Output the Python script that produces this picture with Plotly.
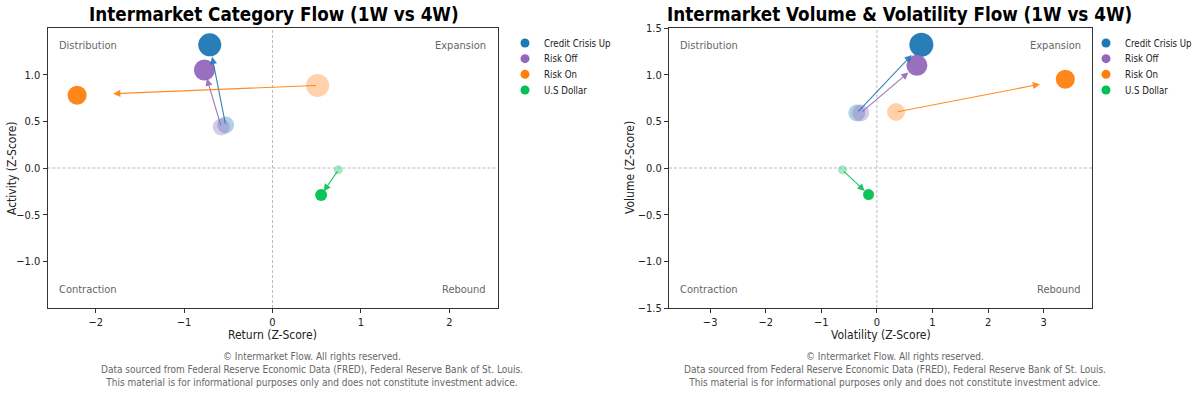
import plotly.graph_objects as go

series = ["Credit Crisis Up", "Risk Off", "Risk On", "U.S Dollar"]
colors = ["#1f77b4", "#9467bd", "#ff7f0e", "#00c150"]

# Left chart: Return vs Activity (Z-Score)
ret_1w = [-0.71, -0.77, -2.21, 0.55]
act_1w = [1.32, 1.05, 0.78, -0.29]
ret_4w = [-0.53, -0.58, 0.51, 0.745]
act_4w = [0.46, 0.44, 0.885, -0.02]
size_l_1w = [23, 21, 19, 12]
size_l_4w = [17, 17, 23, 9]

# Right chart: Volatility vs Volume (Z-Score)
vol_1w = [0.80, 0.72, 3.39, -0.15]
vlm_1w = [1.32, 1.10, 0.95, -0.285]
vol_4w = [-0.36, -0.29, 0.345, -0.62]
vlm_4w = [0.59, 0.59, 0.60, -0.02]
size_r_1w = [24, 21, 19, 11]
size_r_4w = [17, 17, 18, 9]

quadrants = ["Distribution", "Expansion", "Contraction", "Rebound"]
footer = ("© Intermarket Flow. All rights reserved.<br>"
          "Data sourced from Federal Reserve Economic Data (FRED), Federal Reserve Bank of St. Louis.<br>"
          "This material is for informational purposes only and does not constitute investment advice.")

FONT = "DejaVu Sans Condensed, DejaVu Sans, sans-serif"
W, H = 1200, 400
FRAC = 0.85

fig = go.Figure()

panels = [
    dict(xs1=ret_1w, ys1=act_1w, xs4=ret_4w, ys4=act_4w, s1=size_l_1w, s4=size_l_4w,
         xa="x", ya="y", lx="x3", ly="y3",
         xt="Return (Z-Score)", yt="Activity (Z-Score)", ytx=12),
    dict(xs1=vol_1w, ys1=vlm_1w, xs4=vol_4w, ys4=vlm_4w, s1=size_r_1w, s4=size_r_4w,
         xa="x2", ya="y2", lx="x4", ly="y4",
         xt="Volatility (Z-Score)", yt="Volume (Z-Score)", ytx=630),
]

annotations = []
for p in panels:
    for i, name in enumerate(series):
        c = colors[i]
        # 4W (faded)
        fig.add_trace(go.Scatter(
            x=[p["xs4"][i]], y=[p["ys4"][i]], mode="markers", xaxis=p["xa"], yaxis=p["ya"],
            marker=dict(size=p["s4"][i], color=c, opacity=0.35, line=dict(width=0)),
            showlegend=False, hoverinfo="skip"))
        # 1W (solid)
        fig.add_trace(go.Scatter(
            x=[p["xs1"][i]], y=[p["ys1"][i]], mode="markers", xaxis=p["xa"], yaxis=p["ya"],
            marker=dict(size=p["s1"][i], color=c, opacity=0.95, line=dict(width=0)),
            showlegend=False, name=name))
        # arrow from 4W toward 1W
        x0, y0 = p["xs4"][i], p["ys4"][i]
        x1, y1 = p["xs1"][i], p["ys1"][i]
        tx = x0 + FRAC * (x1 - x0)
        ty = y0 + FRAC * (y1 - y0)
        annotations.append(dict(
            x=tx, y=ty, ax=x0, ay=y0, xref=p["xa"], yref=p["ya"], axref=p["xa"], ayref=p["ya"],
            showarrow=True, arrowhead=2, arrowsize=1.3, arrowwidth=1.1, arrowcolor=c,
            text="", opacity=0.9))
    # custom legend (markers on a hidden axis)
    fig.add_trace(go.Scatter(
        x=[0] * len(series), y=list(range(len(series))), mode="markers",
        xaxis=p["lx"], yaxis=p["ly"], marker=dict(size=9, color=colors),
        showlegend=False, hoverinfo="skip", cliponaxis=False))
    for i, name in enumerate(series):
        annotations.append(dict(text=name, xref=p["lx"], yref=p["ly"], x=0, y=i,
                                xanchor="left", yanchor="middle", xshift=17, showarrow=False,
                                font=dict(family=FONT, size=9.6, color="#222")))
    # axis titles
    annotations.append(dict(text=p["xt"], xref=p["xa"] + " domain", yref="paper", x=0.5,
                            y=1 - 335 / H, xanchor="center", yanchor="middle", showarrow=False,
                            font=dict(family=FONT, size=12, color="#222")))
    annotations.append(dict(text=p["yt"], xref="paper", yref=p["ya"] + " domain",
                            x=p["ytx"] / W, y=0.5, xanchor="center", yanchor="middle",
                            textangle=-90, showarrow=False,
                            font=dict(family=FONT, size=12, color="#222")))

# domains (paper coords)
xd1 = [47.5 / W, 497.5 / W]
xd2 = [669 / W, 1092 / W]
yd = [1 - 308 / H, 1 - 28 / H]
leg_y = [1 - 90 / H, 1 - 43 / H]

axis_common = dict(showline=True, linecolor="#333", linewidth=1, mirror=True,
                   ticks="outside", ticklen=4, tickcolor="#333", showgrid=False,
                   zeroline=False, tickfont=dict(family=FONT, size=11, color="#222"))
hidden = dict(visible=False, showgrid=False, zeroline=False, fixedrange=True)

fig.update_layout(
    width=W, height=H, margin=dict(l=0, r=0, t=0, b=0, autoexpand=False),
    paper_bgcolor="white", plot_bgcolor="white", showlegend=False,
    font=dict(family=FONT, color="#222"),
    xaxis=dict(domain=xd1, range=[-2.545, 2.545], tickvals=[-2, -1, 0, 1, 2], anchor="y",
               **axis_common),
    yaxis=dict(domain=yd, range=[-1.5, 1.5], tickvals=[-1, -0.5, 0, 0.5, 1], tickformat=".1f",
               anchor="x", **axis_common),
    xaxis2=dict(domain=xd2, range=[-3.74, 3.87], tickvals=[-3, -2, -1, 0, 1, 2, 3], anchor="y2",
                **axis_common),
    yaxis2=dict(domain=yd, range=[-1.5, 1.5], tickvals=[-1.5, -1, -0.5, 0, 0.5, 1, 1.5],
                tickformat=".1f", anchor="x2", **axis_common),
    xaxis3=dict(domain=[525 / W, 600 / W], range=[0, 1], anchor="y3", **hidden),
    yaxis3=dict(domain=leg_y, range=[3, 0], anchor="x3", **hidden),
    xaxis4=dict(domain=[1106 / W, 1190 / W], range=[0, 1], anchor="y4", **hidden),
    yaxis4=dict(domain=leg_y, range=[3, 0], anchor="x4", **hidden),
)

# dashed zero lines
shapes = []
for xa, ya in [("x", "y"), ("x2", "y2")]:
    shapes.append(dict(type="line", xref=xa, yref=ya + " domain", x0=0, x1=0, y0=0, y1=1,
                       line=dict(color="#aaa", width=0.8, dash="3px,2px"), layer="below"))
    shapes.append(dict(type="line", xref=xa + " domain", yref=ya, x0=0, x1=1, y0=0, y1=0,
                       line=dict(color="#aaa", width=0.8, dash="3px,2px"), layer="below"))

# quadrant labels
pos = [(0.021, 0.936, "left"), (0.979, 0.936, "right"), (0.021, 0.067, "left"), (0.979, 0.067, "right")]
for xa, ya in [("x", "y"), ("x2", "y2")]:
    for q, (px, py, al) in zip(quadrants, pos):
        annotations.append(dict(text=q, xref=xa + " domain", yref=ya + " domain", x=px, y=py,
                                xanchor=al, yanchor="middle", showarrow=False,
                                font=dict(family=FONT, size=11, color="#666")))

# titles
titles = ["Intermarket Category Flow (1W vs 4W)", "Intermarket Volume & Volatility Flow (1W vs 4W)"]
for t, cx in zip(titles, [273.5 / W, 899.5 / W]):
    annotations.append(dict(text="<b>" + t + "</b>", xref="paper", yref="paper",
                            x=cx, y=1 - 15 / H, xanchor="center", yanchor="middle",
                            showarrow=False, font=dict(family=FONT, size=18.7, color="#000")))

# footers
for cx in [311.5 / W, 895 / W]:
    annotations.append(dict(text=footer, xref="paper", yref="paper", x=cx, y=1 - 369 / H,
                            xanchor="center", yanchor="middle", showarrow=False, align="center",
                            font=dict(family=FONT, size=10, color="#666")))

fig.update_layout(shapes=shapes, annotations=annotations)
fig.write_html("out.html")
